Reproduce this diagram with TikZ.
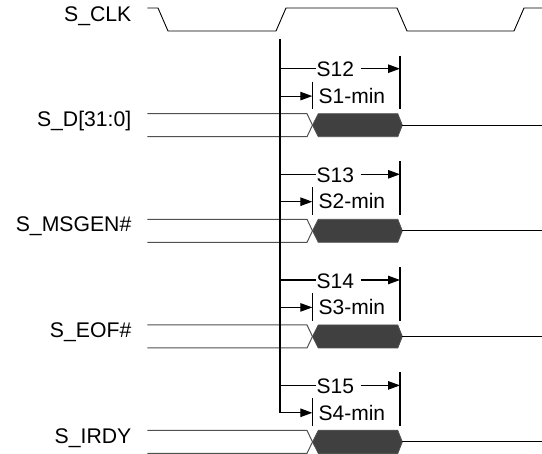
\documentclass[tikz,border=0pt]{standalone}
\usepackage{fontspec}
\setmainfont{Liberation Sans}
\usetikzlibrary{arrows.meta}
\definecolor{hexfill}{HTML}{404040}
\definecolor{sigline}{HTML}{505050}
\tikzset{
  x=1pt,y=-1pt,
  lbl/.style={font=\fontsize{21.2}{24}\selectfont,inner sep=0pt,anchor=base east,text=black},
  tlbl/.style={font=\fontsize{21}{24}\selectfont,inner sep=0pt,anchor=base west,text=black},
  sig/.style={draw=black,line width=0.9pt},
  grayline/.style={draw=sigline,line width=1pt},
  hexa/.style={draw=sigline,fill=hexfill,line width=0.8pt},
  tick/.style={draw=black,line width=1.3pt},
  bar/.style={draw=black,line width=2.3pt},
  lead/.style={draw=black,line width=1.1pt},
  arr/.style={draw=black,line width=1.1pt,-{Triangle[length=12pt,width=8.5pt]}},
}
\newcommand{\sigrow}[5]{%
  % #1 top y, #2 label, #3 long label, #4 short label, #5 id
  \path[grayline] (147.3,#1) -- (307,#1) -- (312.5,#1+11.5) -- (307,#1+23) -- (147.3,#1+23);
  \path[hexa] (312.5,#1+11.5) -- (318.3,#1) -- (397.8,#1) -- (402.3,#1+11.5) -- (397.8,#1+23) -- (318.3,#1+23) -- cycle;
  \path[sig] (402.3,#1+11.5) -- (542,#1+11.5);
  \node[lbl] (lab#5) at (131.5,#1+12.7) {#2};
  \path[tick] (400,#1-58) -- (400,#1-4.3);
  \path[tick] (312.3,#1-32) -- (312.3,#1-4.3);
  \coordinate (ta#5) at (280,#1-45);
  \coordinate (tb#5) at (400,#1-45);
  \coordinate (tc#5) at (280,#1-17.6);
  \coordinate (td#5) at (312.3,#1-17.6);
  \node[tlbl] (long#5) at (316.4,#1-36.8) {#3};
  \node[tlbl] (short#5) at (318.4,#1-10.3) {#4};
  \path[lead] (ta#5) -- (long#5.west |- ta#5);
  \path[arr] ([xshift=6.5pt]long#5.east |- tb#5) -- (tb#5);
  \path[arr] (tc#5) -- (td#5);
}
\begin{document}
\begin{tikzpicture}
\useasboundingbox (0,0) rectangle (542,454);
\path[sig] (147.3,8) -- (158,8) -- (168,31) -- (276,31) -- (286,8) -- (397,8) -- (407,31) -- (514,31) -- (524,8) -- (542,8);
\node[lbl] (clk) at (131.5,21.7) {S\_CLK};
\sigrow{113.7}{S\_D[31:0]}{S12}{S1-min}{a}
\sigrow{219.3}{S\_MSGEN\#}{S13}{S2-min}{b}
\sigrow{325}{S\_EOF\#}{S14}{S3-min}{c}
\sigrow{430.4}{S\_IRDY}{S15}{S4-min}{d}
\coordinate (bt) at (280,39);
\coordinate (bb) at (280,412.8);
\path[bar] (bt) -- (bb);
\end{tikzpicture}
\end{document}
